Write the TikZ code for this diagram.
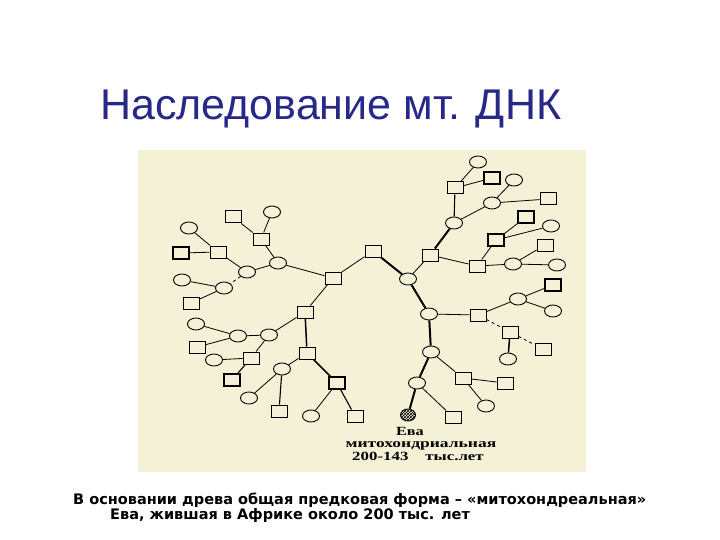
\documentclass[tikz,border=0pt]{standalone}
\usepackage{fontspec}
\usepackage{graphicx}
\setmainfont{Liberation Serif}
\newfontfamily\titlefont{Liberation Sans}
\newfontfamily\capfont{DejaVu Sans}
\usetikzlibrary{shapes.geometric,patterns}
\definecolor{titleblue}{RGB}{40,40,135}
\definecolor{panelbg}{RGB}{245,241,214}
\tikzset{
  sq/.style={draw,line width=1pt,minimum width=16pt,minimum height=12pt,inner sep=0pt},
  ci/.style={draw,ellipse,line width=0.9pt,minimum width=17pt,minimum height=12pt,inner sep=0pt},
  lnk/.style={line width=0.8pt},
  trunk/.style={line width=2pt},
  lbl/.style={font=\bfseries\fontsize{12.5}{14}\selectfont,inner sep=0pt,anchor=base}
}
\begin{document}
\begin{tikzpicture}[x=1pt,y=-1pt]
\useasboundingbox (0,0) rectangle (720,540);
\fill[white] (0,0) rectangle (720,540);
\fill[panelbg] (138,150) rectangle (586,472);

% title
\node[anchor=base west,text=titleblue,font=\titlefont\fontsize{43}{50}\selectfont,inner sep=0pt] (title) at (100,120) {Наследование мт. ДНК};

% left subtree
\node[sq] (L1) at (233,217) {};
\node[ci] (L2) at (272,212) {};
\node[sq] (L3) at (261,239) {};
\node[ci] (L4) at (278,263) {};
\node[ci] (L5) at (247,272) {};
\node[sq] (L6) at (218,252) {};
\node[ci] (L7) at (189,228) {};
\node[sq,line width=1.7pt] (L8) at (181,253) {};
\node[ci] (L9) at (224,288) {};
\node[ci] (L10) at (182,280) {};
\node[sq] (L11) at (191,303) {};

% main trunk
\node[sq] (M1) at (373,251) {};
\node[sq] (M2) at (333,278) {};
\node[ci] (M3) at (408,279) {};
\node[ci] (M4) at (429,314) {};
\node[ci] (M5) at (431,352) {};
\node[ci] (M6) at (417,383) {};
\node[ellipse,draw,line width=0.9pt,minimum width=15pt,minimum height=12pt,inner sep=0pt,fill=black!55,pattern=crosshatch,pattern color=black] (Eve) at (408,415) {};

% left lower subtree
\node[sq] (A1) at (305,312) {};
\node[ci] (A2) at (269,335) {};
\node[ci] (A3) at (238,336) {};
\node[ci] (A4) at (196,324) {};
\node[sq] (A5) at (197,347) {};
\node[sq] (A6) at (251,358) {};
\node[ci] (A7) at (214,360) {};
\node[sq,line width=1.4pt] (A8) at (232,380) {};
\node[sq] (A9) at (307,353) {};
\node[ci] (A10) at (282,369) {};
\node[ci] (A11) at (249,398) {};
\node[sq] (A12) at (279,411) {};
\node[sq,line width=1.4pt] (A13) at (337,383) {};
\node[ci] (A14) at (311,416) {};
\node[sq] (A15) at (355,416) {};

% right upper subtree
\node[sq] (R1) at (430,255) {};
\node[ci] (R2) at (454,223) {};
\node[sq] (R3) at (455,188) {};
\node[ci] (R4) at (478,162) {};
\node[sq,line width=1.4pt] (R5) at (492,178) {};
\node[ci] (R6) at (492,203) {};
\node[ci] (R7) at (514,180) {};
\node[sq] (R8) at (548,199) {};
\node[sq] (R9) at (477,266) {};
\node[sq,line width=1.4pt] (R10) at (496,240) {};
\node[sq,line width=1.4pt] (R11) at (526,217) {};
\node[ci] (R12) at (551,226) {};
\node[ci] (R13) at (513,264) {};
\node[sq] (R14) at (545,245) {};
\node[ci] (R15) at (557,265) {};

% right lower subtree
\node[sq] (Q1) at (478,315) {};
\node[ci] (Q2) at (518,299) {};
\node[sq,line width=1.4pt] (Q3) at (553,285) {};
\node[ci] (Q4) at (553,311) {};
\node[sq] (Q5) at (510,332) {};
\node[sq] (Q6) at (543,349) {};
\node[ci] (Q7) at (508,359) {};
\node[sq] (Q8) at (463,378) {};
\node[sq] (Q9) at (505,383) {};
\node[ci] (Q10) at (486,406) {};
\node[sq] (Q11) at (453,417) {};

% edges
\draw[lnk] (L1) -- (L3);
\draw[lnk] (L2) -- (L3);
\draw[lnk] (L3) -- (L4);
\draw[lnk] (L4) -- (L5);
\draw[lnk] (L5) -- (L6);
\draw[lnk] (L6) -- (L7);
\draw[lnk] (L6) -- (L8);
\draw[lnk,dashed] (L5) -- (L9);
\draw[lnk] (L9) -- (L10);
\draw[lnk] (L9) -- (L11);
\draw[lnk] (L4) -- (M2);

\draw[lnk] (M2) -- (M1);
\draw[trunk] (M1) -- (M3);
\draw[trunk] (M3) -- (M4);
\draw[trunk] (M4) -- (M5);
\draw[trunk] (M5) -- (M6);
\draw[trunk] (M6) -- (Eve);
\draw[lnk] (M6) -- (Q11);

\draw[lnk] (M2) -- (A1);
\draw[lnk] (A1) -- (A2);
\draw[lnk] (A2) -- (A3);
\draw[lnk] (A3) -- (A4);
\draw[lnk] (A3) -- (A5);
\draw[lnk] (A2) -- (A6);
\draw[lnk] (A6) -- (A7);
\draw[line width=1.1pt] (A6) -- (A8);
\draw[line width=1.5pt] (A1) -- (A9);
\draw[lnk] (A9) -- (A10);
\draw[lnk] (A10) -- (A11);
\draw[line width=1.1pt] (A10) -- (A12);
\draw[line width=1.5pt] (A9) -- (A13);
\draw[lnk] (A13) -- (A14);
\draw[line width=1.1pt] (A13) -- (A15);

\draw[lnk] (M3) -- (R1);
\draw[trunk] (R1) -- (R2);
\draw[line width=1.1pt] (R2) -- (R3);
\draw[lnk] (R3) -- (R4);
\draw[lnk] (R3) -- (R5);
\draw[lnk] (R2) -- (R6);
\draw[lnk] (R6) -- (R7);
\draw[lnk] (R6) -- (R8);
\draw[lnk] (R1) -- (R9);
\draw[lnk] (R9) -- (R10);
\draw[lnk] (R10) -- (R11);
\draw[lnk] (R10) -- (R12);
\draw[lnk] (R9) -- (R13);
\draw[lnk] (R13) -- (R14);
\draw[lnk] (R13) -- (R15);

\draw[lnk] (M4) -- (Q1);
\draw[lnk] (Q1) -- (Q2);
\draw[lnk] (Q2) -- (Q3);
\draw[lnk] (Q2) -- (Q4);
\draw[lnk,dashed] (Q1) -- (Q5);
\draw[lnk,dashed] (Q5) -- (Q6);
\draw[line width=1.5pt] (Q5) -- (Q7);
\draw[lnk] (M5) -- (Q8);
\draw[lnk] (Q8) -- (Q9);
\draw[lnk] (Q8) -- (Q10);

% Eve labels
\node[lbl] (eva) at (410,435) {\scalebox{1.3}[1]{Ева}};
\node[lbl] (mito) at (421,447) {\scalebox{1.4}[1]{митохондриальная}};
\node[lbl] (age) at (418,460) {\scalebox{1.35}[1]{200-143\quad тыс.лет}};

% caption
\node[anchor=base west,font=\capfont\bfseries\fontsize{14.5}{16}\selectfont,inner sep=0pt] (cap1) at (73,504) {В основании древа общая предковая форма – «митохондреальная»};
\node[anchor=base west,font=\capfont\bfseries\fontsize{14.5}{16}\selectfont,inner sep=0pt] (cap2) at (110,519) {Ева, жившая в Африке около 200 тыс. лет};
\end{tikzpicture}
\end{document}
